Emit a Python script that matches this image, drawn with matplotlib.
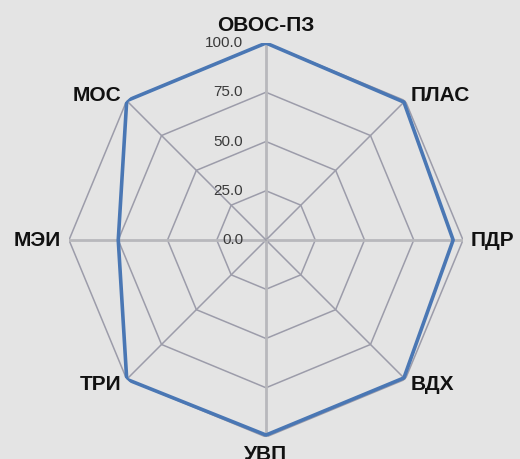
import numpy as np
import matplotlib
matplotlib.use("Agg")
import matplotlib.pyplot as plt

categories = ["ОВОС-ПЗ", "ПЛАС", "ПДР", "ВДХ", "УВП", "ТРИ", "МЭИ", "МОС"]
values = [100, 99, 95, 99, 99, 100, 75, 100]
rticks = [0, 25, 50, 75, 100]
rtick_labels = ["0.0", "25.0", "50.0", "75.0", "100.0"]

bg = "#e4e4e4"
grid_color = "#9c9caa"
axis_spoke_color = "#b8b8bc"
line_color = "#4a77b4"

fig = plt.figure(figsize=(5.2, 4.59), dpi=100, facecolor=bg)
ax = fig.add_axes([0.1327, 0.0479, 0.7577, 0.8584], projection="polar", facecolor=bg)
ax.set_theta_zero_location("N")
ax.set_theta_direction(-1)

n = len(categories)
angles = np.linspace(0, 2 * np.pi, n, endpoint=False)

ax.set_ylim(0, 100)
ax.spines["polar"].set_visible(False)
ax.yaxis.grid(False)
ax.set_yticks(rticks)
ax.set_yticklabels([])
ax.set_xticks(angles)
ax.set_xticklabels([])
ax.xaxis.grid(True, color=grid_color, linewidth=1.1)
for i, gl in enumerate(ax.xaxis.get_gridlines()):
    if i % 2 == 0:
        gl.set_color(axis_spoke_color)
        gl.set_linewidth(2.0)

closed = np.concatenate([angles, angles[:1]])
for r in rticks[1:]:
    ax.plot(closed, [r] * (n + 1), color=grid_color, linewidth=1.1, zorder=1)

vals = values + values[:1]
ax.plot(closed, vals, color=line_color, linewidth=2.6, zorder=3)

for r, lab in zip(rticks, rtick_labels):
    ax.annotate(lab, xy=(0, r), xytext=(-23, 0), textcoords="offset pixels",
                ha="right", va="center", fontsize=11, color="#3a3a3a",
                family="Liberation Sans", zorder=4)

for a, lab in zip(angles, categories):
    s, c = np.sin(a), np.cos(a)
    ha = "center" if abs(s) < 1e-6 else ("left" if s > 0 else "right")
    if abs(s) > 1e-6:
        va = "center"
    else:
        va = "bottom" if c > 0 else "top"
    ax.text(a, 104, lab, ha=ha, va=va, fontsize=15, fontweight="bold",
            family="Liberation Sans", color="#111111")

fig.savefig("out.png", dpi=100, facecolor=bg)
